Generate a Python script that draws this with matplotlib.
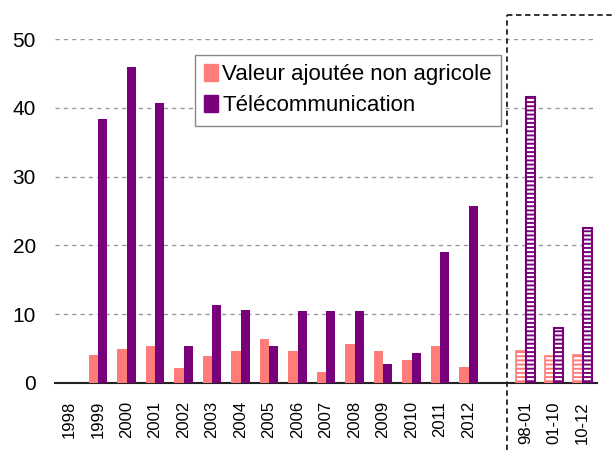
import matplotlib
matplotlib.use('Agg')
import matplotlib.pyplot as plt
from matplotlib.lines import Line2D
import numpy as np

plt.rcParams['font.family'] = ['Liberation Sans', 'DejaVu Sans']
plt.rcParams['hatch.linewidth'] = 1.4

labels = ['1998', '1999', '2000', '2001', '2002', '2003', '2004', '2005', '2006',
          '2007', '2008', '2009', '2010', '2011', '2012', '', '98-01', '01-10', '10-12']
valeur = [0, 4.0, 4.9, 5.4, 2.2, 3.9, 4.7, 6.4, 4.7, 1.6, 5.7, 4.7, 3.3, 5.4, 2.3, 0, 4.7, 3.9, 4.1]
telecom = [0, 38.4, 46.0, 40.7, 5.4, 11.3, 10.6, 5.4, 10.4, 10.4, 10.4, 2.8, 4.3, 19.0, 25.7, 0, 41.6, 8.0, 22.5]
periods = ['98-01', '01-10', '10-12']

pink = '#FF7C78'
purple = '#78007A'

fig = plt.figure(figsize=(6.14, 4.5), dpi=100)
ax = fig.add_axes([0.09, 0.149, 0.882, 0.764])

x = np.arange(len(labels))
w = 0.33
for i, lab in enumerate(labels):
    if lab == '':
        continue
    if lab in periods:
        ax.bar(x[i] - w / 2, valeur[i], w, facecolor='white', edgecolor=pink,
               hatch='----', linewidth=1.2, zorder=3)
        ax.bar(x[i] + w / 2, telecom[i], w, facecolor='white', edgecolor=purple,
               hatch='----', linewidth=1.5, zorder=3)
    else:
        if valeur[i] > 0:
            ax.bar(x[i] - w / 2, valeur[i], w, color=pink, zorder=3)
        if telecom[i] > 0:
            ax.bar(x[i] + w / 2, telecom[i], w, color=purple, zorder=3)

ax.set_xlim(-0.5, len(labels) - 0.5)
ax.set_ylim(0, 50)
ax.set_yticks([0, 10, 20, 30, 40, 50])
ax.yaxis.grid(True, linestyle=(0, (3, 3)), color='#999999', linewidth=1)
ax.set_axisbelow(True)
for s in ['top', 'right', 'left']:
    ax.spines[s].set_visible(False)
ax.spines['bottom'].set_linewidth(1.5)
ax.spines['bottom'].set_color('#222222')
ax.tick_params(axis='both', length=0)
ax.tick_params(axis='y', labelsize=15, pad=14)
ax.set_xticks(x)
ax.set_xticklabels(labels, rotation=90, fontsize=12)
ax.tick_params(axis='x', pad=13)

handles = [plt.Rectangle((0, 0), 1, 1, color=pink), plt.Rectangle((0, 0), 1, 1, color=purple)]
leg = ax.legend(handles, ['Valeur ajoutée non agricole', 'Télécommunication'],
                loc='upper left', bbox_to_anchor=(0.258, 0.955), fontsize=16,
                fancybox=False, edgecolor='#888888', framealpha=1,
                handlelength=0.6, handleheight=0.8, handletextpad=0.2,
                labelspacing=0.45, borderpad=0.42, borderaxespad=0)
leg.get_frame().set_linewidth(1)

# dashed box around the period averages
xl = 507 / 614
yt = 1 - 15 / 450
fig.add_artist(Line2D([xl, xl], [0, yt], transform=fig.transFigure, color='#222222',
                      linestyle=(0, (3, 2)), linewidth=1.3))
fig.add_artist(Line2D([xl, 1], [yt, yt], transform=fig.transFigure, color='#222222',
                      linestyle=(0, (3, 2)), linewidth=1.3))

fig.savefig('out.png', dpi=100)
